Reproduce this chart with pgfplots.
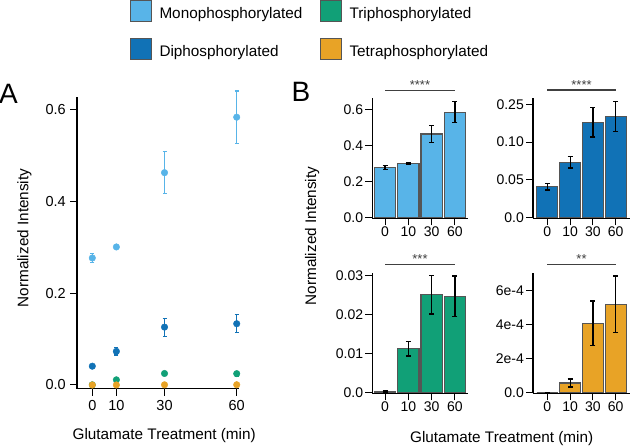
\documentclass[border=0pt]{standalone}
\usepackage{pgfplots}
\usepackage{pgfplotstable}
\pgfplotsset{compat=1.18}
\usepackage{fontspec}
\setmainfont{Liberation Sans}
\definecolor{cmono}{HTML}{58B4E8}
\definecolor{cdi}{HTML}{1172B6}
\definecolor{ctri}{HTML}{11A077}
\definecolor{ctetra}{HTML}{E8A326}
\definecolor{edgec}{HTML}{555555}
\definecolor{sigc}{HTML}{404040}

% time (min), index, value, error
\pgfplotstableread{
t  i  y       e
0  0  0.277   0.010
10 1  0.301   0.004
30 2  0.463   0.046
60 3  0.584   0.057
}\mono
\pgfplotstableread{
t  i  y       e
0  0  0.0410  0.0044
10 1  0.0733  0.0077
30 2  0.1262  0.0196
60 3  0.1336  0.0198
}\di
\pgfplotstableread{
t  i  y       e
0  0  0.0004  0.0002
10 1  0.0113  0.0019
30 2  0.0251  0.0049
60 3  0.0247  0.0052
}\tri
\pgfplotstableread{
t  i  y        e
0  0  0.0      0.0
10 1  5.7e-5   2.4e-5
30 2  4.08e-4  1.32e-4
60 3  5.20e-4  1.66e-4
}\tetra

\pgfplotsset{
  base/.style={
    scale only axis, clip=false,
    axis x line*=bottom, axis y line*=left,
    axis line style={line width=1.1pt, black},
    every tick/.style={line width=1pt, black},
    tick align=outside, major tick length=7pt,
    scaled y ticks=false, scaled x ticks=false,
    /pgf/number format/assume math mode=true,
  },
  bpanel/.style={base, height=120.6pt,
    xtick={0,1,2,3}, xticklabels={0,10,30,60},
    tick label style={font=\fontsize{14}{16}\selectfont},
    xticklabel style={inner sep=1.5pt}, yticklabel style={inner sep=2pt}},
  bars/.style={ybar, bar width=0.92, fill=#1, draw=edgec, line width=1.2pt,
    error bars/.cd, y dir=both, y explicit,
    error bar style={black, line width=1.2pt},
    error mark options={rotate=90, black, line width=1.2pt, mark size=2.5pt}},
  pts/.style={only marks, mark=*, mark size=3.3pt, color=#1,
    mark options={draw=#1, fill=#1},
    error bars/.cd, y dir=both, y explicit,
    error bar style={#1, line width=1.2pt},
    error mark options={rotate=90, #1, line width=1.2pt, mark size=2pt}},
}

\begin{document}
\begin{tikzpicture}
\useasboundingbox (0,0) rectangle (631pt,445pt);

% ---------- Panel A ----------
\begin{axis}[base, at={(77pt,56.3pt)}, anchor=south west,
  width=162pt, height=291.7pt,
  xmin=-6.36, xmax=60.95, ymin=-0.0081, ymax=0.628,
  xtick={0,10,30,60}, ytick={0,0.2,0.4,0.6}, yticklabels={0.0,0.2,0.4,0.6},
  tick label style={font=\fontsize{14.5}{17}\selectfont},
  xticklabel style={inner sep=4.5pt}, yticklabel style={inner sep=4pt}]
\addplot[pts=cmono] table[x=t, y=y, y error=e] {\mono};
\addplot[pts=cdi] table[x=t, y=y, y error=e] {\di};
\addplot[pts=ctri] table[x=t, y=y, y error=e] {\tri};
\addplot[pts=ctetra] table[x=t, y=y, y error=e] {\tetra};
\end{axis}

% ---------- Panel B: mono ----------
\begin{axis}[bpanel, at={(372.3pt,226.7pt)}, anchor=south west, width=95.7pt,
  xmin=-0.545, xmax=3.56, ymin=-0.0033, ymax=0.664,
  ytick={0,0.2,0.4,0.6}, yticklabels={0.0,0.2,0.4,0.6}]
\addplot[bars=cmono] table[x=i, y=y, y error=e] {\mono};
\draw[sigc, line width=1.1pt] (axis cs:0,0.703) -- (axis cs:3,0.703);
\node[anchor=base, inner sep=0, font=\fontsize{13}{15}\selectfont, text=sigc] at (axis cs:1.5,0.708) {****};
\end{axis}

% ---------- Panel B: di ----------
\begin{axis}[bpanel, at={(533pt,226.7pt)}, anchor=south west, width=97pt,
  xmin=-0.627, xmax=3.627, ymin=-0.0008, ymax=0.1587,
  ytick={0,0.05,0.10,0.15}, yticklabels={0.0,0.05,0.10,0.25}]
\addplot[bars=cdi] table[x=i, y=y, y error=e] {\di};
\draw[sigc, line width=1.1pt] (axis cs:0,0.1689) -- (axis cs:3,0.1689);
\node[anchor=base, inner sep=0, font=\fontsize{13}{15}\selectfont, text=sigc] at (axis cs:1.5,0.1702) {****};
\end{axis}

% ---------- Panel B: tri ----------
\begin{axis}[bpanel, at={(372.3pt,51.7pt)}, anchor=south west, width=95.7pt,
  xmin=-0.545, xmax=3.56, ymin=-0.00015, ymax=0.03077,
  ytick={0,0.01,0.02,0.03}, yticklabels={0.0,0.01,0.02,0.03}]
\addplot[bars=ctri] table[x=i, y=y, y error=e] {\tri};
\draw[sigc, line width=1.1pt] (axis cs:0,0.03292) -- (axis cs:3,0.03292);
\node[anchor=base, inner sep=0, font=\fontsize{13}{15}\selectfont, text=sigc] at (axis cs:1.5,0.03318) {***};
\end{axis}

% ---------- Panel B: tetra ----------
\begin{axis}[bpanel, at={(533pt,51.7pt)}, anchor=south west, width=97pt,
  xmin=-0.627, xmax=3.627, ymin=-3.5e-6, ymax=7.06e-4,
  ytick={0,2e-4,4e-4,6e-4}, yticklabels={0.0,2e-4,4e-4,6e-4}]
\addplot[bars=ctetra] table[x=i, y=y, y error=e] {\tetra};
\draw[sigc, line width=1.1pt] (axis cs:0,7.55e-4) -- (axis cs:3,7.55e-4);
\node[anchor=base, inner sep=0, font=\fontsize{13}{15}\selectfont, text=sigc] at (axis cs:1.5,7.61e-4) {**};
\end{axis}

% ---------- labels ----------
\node[anchor=base west, inner sep=0, font=\fontsize{28}{30}\selectfont] at (-1pt,341.7pt) {A};
\node[anchor=base west, inner sep=0, font=\fontsize{28}{30}\selectfont] at (291.5pt,343.3pt) {B};
\node[rotate=90, anchor=base, inner sep=0, font=\fontsize{15.3}{18}\selectfont] at (28.3pt,207pt) {Normalized Intensity};
\node[rotate=90, anchor=base, inner sep=0, font=\fontsize{15.3}{18}\selectfont] at (316pt,209pt) {Normalized Intensity};
\node[anchor=base, inner sep=0, font=\fontsize{15.3}{18}\selectfont] at (164.2pt,5.7pt) {Glutamate Treatment (min)};
\node[anchor=base, inner sep=0, font=\fontsize{15.3}{18}\selectfont] at (501.7pt,2.7pt) {Glutamate Treatment (min)};

% ---------- legend ----------
\filldraw[fill=cmono, draw=edgec, line width=0.9pt] (130.7pt,444.3pt) rectangle (151.7pt,424pt);
\filldraw[fill=cdi, draw=edgec, line width=0.9pt] (130.7pt,406.7pt) rectangle (151.7pt,385.7pt);
\filldraw[fill=ctri, draw=edgec, line width=0.9pt] (320pt,444.3pt) rectangle (341pt,424pt);
\filldraw[fill=ctetra, draw=edgec, line width=0.9pt] (320pt,406.7pt) rectangle (341pt,385.7pt);
\node[anchor=base west, inner sep=0, font=\fontsize{15.3}{18}\selectfont] at (159.3pt,426.7pt) {Monophosphorylated};
\node[anchor=base west, inner sep=0, font=\fontsize{15.3}{18}\selectfont] at (159.3pt,388.3pt) {Diphosphorylated};
\node[anchor=base west, inner sep=0, font=\fontsize{15.3}{18}\selectfont] at (349.3pt,426.7pt) {Triphosphorylated};
\node[anchor=base west, inner sep=0, font=\fontsize{15.3}{18}\selectfont] at (349.3pt,388.3pt) {Tetraphosphorylated};
\end{tikzpicture}
\end{document}
